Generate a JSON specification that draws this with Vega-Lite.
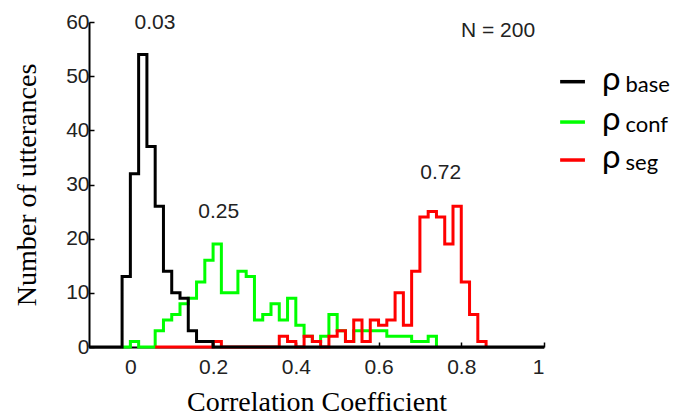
{
  "$schema": "https://vega.github.io/schema/vega-lite/v6.json",
  "width": 455,
  "height": 325,
  "autosize": "none",
  "padding": {"left": 89, "top": 22, "right": 136, "bottom": 70},
  "background": "white",
  "config": {
    "view": {"stroke": null},
    "axis": {
      "grid": false,
      "domainColor": "black",
      "domainWidth": 2,
      "tickColor": "black",
      "tickWidth": 1.5,
      "tickSize": -5,
      "labelFont": "Liberation Sans",
      "labelFontSize": 21,
      "labelColor": "#222222",
      "titleFont": "Liberation Serif",
      "titleFontSize": 28,
      "titleFontWeight": "normal",
      "titleColor": "black"
    }
  },
  "datasets": {
    "hist": [
      {"series": "base", "corr": -0.1, "count": 0},
      {"series": "base", "corr": -0.02, "count": 13},
      {"series": "base", "corr": 0.0, "count": 32},
      {"series": "base", "corr": 0.02, "count": 54},
      {"series": "base", "corr": 0.04, "count": 37},
      {"series": "base", "corr": 0.06, "count": 26},
      {"series": "base", "corr": 0.08, "count": 14},
      {"series": "base", "corr": 0.10, "count": 10},
      {"series": "base", "corr": 0.12, "count": 9},
      {"series": "base", "corr": 0.14, "count": 3},
      {"series": "base", "corr": 0.16, "count": 1},
      {"series": "base", "corr": 0.18, "count": 1},
      {"series": "base", "corr": 0.20, "count": 0},
      {"series": "base", "corr": 1.0, "count": 0},
      {"series": "conf", "corr": -0.02, "count": 0},
      {"series": "conf", "corr": 0.0, "count": 1},
      {"series": "conf", "corr": 0.02, "count": 0},
      {"series": "conf", "corr": 0.04, "count": 0},
      {"series": "conf", "corr": 0.06, "count": 3},
      {"series": "conf", "corr": 0.08, "count": 5},
      {"series": "conf", "corr": 0.10, "count": 6},
      {"series": "conf", "corr": 0.12, "count": 8},
      {"series": "conf", "corr": 0.14, "count": 9},
      {"series": "conf", "corr": 0.16, "count": 12},
      {"series": "conf", "corr": 0.18, "count": 16},
      {"series": "conf", "corr": 0.20, "count": 19},
      {"series": "conf", "corr": 0.22, "count": 10},
      {"series": "conf", "corr": 0.24, "count": 10},
      {"series": "conf", "corr": 0.26, "count": 14},
      {"series": "conf", "corr": 0.28, "count": 13},
      {"series": "conf", "corr": 0.30, "count": 5},
      {"series": "conf", "corr": 0.32, "count": 6},
      {"series": "conf", "corr": 0.34, "count": 8},
      {"series": "conf", "corr": 0.36, "count": 5},
      {"series": "conf", "corr": 0.38, "count": 9},
      {"series": "conf", "corr": 0.40, "count": 4},
      {"series": "conf", "corr": 0.42, "count": 2},
      {"series": "conf", "corr": 0.44, "count": 1},
      {"series": "conf", "corr": 0.46, "count": 2},
      {"series": "conf", "corr": 0.48, "count": 6},
      {"series": "conf", "corr": 0.50, "count": 3},
      {"series": "conf", "corr": 0.52, "count": 1},
      {"series": "conf", "corr": 0.54, "count": 3},
      {"series": "conf", "corr": 0.56, "count": 3},
      {"series": "conf", "corr": 0.58, "count": 3},
      {"series": "conf", "corr": 0.60, "count": 3},
      {"series": "conf", "corr": 0.62, "count": 2},
      {"series": "conf", "corr": 0.64, "count": 2},
      {"series": "conf", "corr": 0.66, "count": 2},
      {"series": "conf", "corr": 0.68, "count": 1},
      {"series": "conf", "corr": 0.70, "count": 1},
      {"series": "conf", "corr": 0.72, "count": 2},
      {"series": "conf", "corr": 0.74, "count": 0},
      {"series": "seg", "corr": 0.06, "count": 0},
      {"series": "seg", "corr": 0.20, "count": 1},
      {"series": "seg", "corr": 0.22, "count": 0},
      {"series": "seg", "corr": 0.36, "count": 2},
      {"series": "seg", "corr": 0.38, "count": 1},
      {"series": "seg", "corr": 0.40, "count": 0},
      {"series": "seg", "corr": 0.42, "count": 2},
      {"series": "seg", "corr": 0.44, "count": 1},
      {"series": "seg", "corr": 0.46, "count": 0},
      {"series": "seg", "corr": 0.48, "count": 2},
      {"series": "seg", "corr": 0.50, "count": 3},
      {"series": "seg", "corr": 0.52, "count": 1},
      {"series": "seg", "corr": 0.54, "count": 5},
      {"series": "seg", "corr": 0.56, "count": 1},
      {"series": "seg", "corr": 0.58, "count": 5},
      {"series": "seg", "corr": 0.60, "count": 4},
      {"series": "seg", "corr": 0.62, "count": 5},
      {"series": "seg", "corr": 0.64, "count": 10},
      {"series": "seg", "corr": 0.66, "count": 4},
      {"series": "seg", "corr": 0.68, "count": 14},
      {"series": "seg", "corr": 0.70, "count": 24},
      {"series": "seg", "corr": 0.72, "count": 25},
      {"series": "seg", "corr": 0.74, "count": 24},
      {"series": "seg", "corr": 0.76, "count": 19},
      {"series": "seg", "corr": 0.78, "count": 26},
      {"series": "seg", "corr": 0.80, "count": 12},
      {"series": "seg", "corr": 0.82, "count": 6},
      {"series": "seg", "corr": 0.84, "count": 1},
      {"series": "seg", "corr": 0.86, "count": 0}
    ]
  },
  "layer": [
    {
      "data": {"name": "hist"},
      "transform": [{"filter": "datum.series === 'conf'"}],
      "mark": {"type": "line", "interpolate": "step-after", "strokeWidth": 3, "color": "#00ff00", "strokeJoin": "miter"},
      "encoding": {
        "x": {"field": "corr", "type": "quantitative", "scale": {"domain": [-0.1, 1], "nice": false, "zero": false},
              "axis": {"title": "Correlation Coefficient", "values": [0, 0.2, 0.4, 0.6, 0.8, 1], "format": "~g", "labelPadding": 14, "titlePadding": 11}},
        "y": {"field": "count", "type": "quantitative", "scale": {"domain": [0, 60], "nice": false},
              "axis": {"title": "Number of utterances", "values": [0, 10, 20, 30, 40, 50, 60], "labelPadding": 5, "titlePadding": 24}}
      }
    },
    {
      "data": {"name": "hist"},
      "transform": [{"filter": "datum.series === 'seg'"}],
      "mark": {"type": "line", "interpolate": "step-after", "strokeWidth": 3, "color": "#ff0000", "strokeJoin": "miter"},
      "encoding": {
        "x": {"field": "corr", "type": "quantitative"},
        "y": {"field": "count", "type": "quantitative"}
      }
    },
    {
      "data": {"name": "hist"},
      "transform": [{"filter": "datum.series === 'base'"}],
      "mark": {"type": "line", "interpolate": "step-after", "strokeWidth": 3, "color": "#000000", "strokeJoin": "miter"},
      "encoding": {
        "x": {"field": "corr", "type": "quantitative"},
        "y": {"field": "count", "type": "quantitative"}
      }
    },
    {
      "data": {"values": [{"label": "0.03"}]},
      "mark": {"type": "text", "font": "Liberation Sans", "fontSize": 21, "color": "#222222", "align": "center", "baseline": "middle"},
      "encoding": {"x": {"datum": 0.0595, "type": "quantitative"}, "y": {"datum": 59.8, "type": "quantitative"}, "text": {"field": "label"}}
    },
    {
      "data": {"values": [{"label": "0.25"}]},
      "mark": {"type": "text", "font": "Liberation Sans", "fontSize": 21, "color": "#222222", "align": "center", "baseline": "middle"},
      "encoding": {"x": {"datum": 0.2135, "type": "quantitative"}, "y": {"datum": 24.9, "type": "quantitative"}, "text": {"field": "label"}}
    },
    {
      "data": {"values": [{"label": "0.72"}]},
      "mark": {"type": "text", "font": "Liberation Sans", "fontSize": 21, "color": "#222222", "align": "center", "baseline": "middle"},
      "encoding": {"x": {"datum": 0.7505, "type": "quantitative"}, "y": {"datum": 32.2, "type": "quantitative"}, "text": {"field": "label"}}
    },
    {
      "data": {"values": [{"label": "N = 200"}]},
      "mark": {"type": "text", "font": "Liberation Sans", "fontSize": 21, "color": "#222222", "align": "center", "baseline": "middle"},
      "encoding": {"x": {"datum": 0.889, "type": "quantitative"}, "y": {"datum": 58.4, "type": "quantitative"}, "text": {"field": "label"}}
    },
    {
      "data": {"values": [{"rho": "ρ", "sub": "base"}]},
      "encoding": {"y": {"datum": 48.98, "type": "quantitative"}},
      "layer": [
        {"mark": {"type": "rule", "color": "#000000", "strokeWidth": 3.5}, "encoding": {"x": {"datum": 1.039, "type": "quantitative"}, "x2": {"datum": 1.099}}},
        {"mark": {"type": "text", "font": "Lato", "fontSize": 33, "color": "black", "align": "left", "baseline": "alphabetic", "dy": 8}, "encoding": {"x": {"datum": 1.14, "type": "quantitative"}, "text": {"field": "rho"}}},
        {"mark": {"type": "text", "font": "Lato", "fontSize": 22, "color": "black", "align": "left", "baseline": "alphabetic", "dy": 10}, "encoding": {"x": {"datum": 1.197, "type": "quantitative"}, "text": {"field": "sub"}}}
      ]
    },
    {
      "data": {"values": [{"rho": "ρ", "sub": "conf"}]},
      "encoding": {"y": {"datum": 41.53, "type": "quantitative"}},
      "layer": [
        {"mark": {"type": "rule", "color": "#00ff00", "strokeWidth": 3.5}, "encoding": {"x": {"datum": 1.039, "type": "quantitative"}, "x2": {"datum": 1.099}}},
        {"mark": {"type": "text", "font": "Lato", "fontSize": 33, "color": "black", "align": "left", "baseline": "alphabetic", "dy": 8}, "encoding": {"x": {"datum": 1.14, "type": "quantitative"}, "text": {"field": "rho"}}},
        {"mark": {"type": "text", "font": "Lato", "fontSize": 22, "color": "black", "align": "left", "baseline": "alphabetic", "dy": 10}, "encoding": {"x": {"datum": 1.197, "type": "quantitative"}, "text": {"field": "sub"}}}
      ]
    },
    {
      "data": {"values": [{"rho": "ρ", "sub": "seg"}]},
      "encoding": {"y": {"datum": 34.52, "type": "quantitative"}},
      "layer": [
        {"mark": {"type": "rule", "color": "#ff0000", "strokeWidth": 3.5}, "encoding": {"x": {"datum": 1.039, "type": "quantitative"}, "x2": {"datum": 1.099}}},
        {"mark": {"type": "text", "font": "Lato", "fontSize": 33, "color": "black", "align": "left", "baseline": "alphabetic", "dy": 8}, "encoding": {"x": {"datum": 1.14, "type": "quantitative"}, "text": {"field": "rho"}}},
        {"mark": {"type": "text", "font": "Lato", "fontSize": 22, "color": "black", "align": "left", "baseline": "alphabetic", "dy": 10}, "encoding": {"x": {"datum": 1.197, "type": "quantitative"}, "text": {"field": "sub"}}}
      ]
    }
  ]
}
